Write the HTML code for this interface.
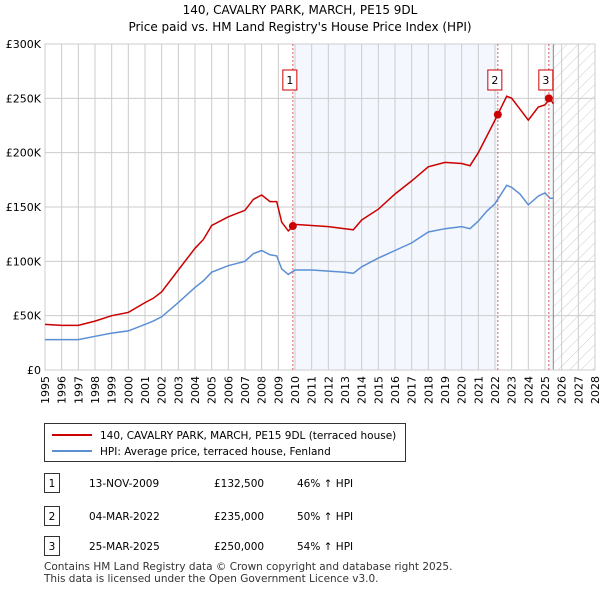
<!DOCTYPE html>
<html><head><meta charset="utf-8"><style>
body{margin:0;background:#fff;font-family:"Liberation Sans","DejaVu Sans",sans-serif;}
svg text{font-family:"DejaVu Sans","Liberation Sans",sans-serif;}
</style></head><body>
<svg id="c" width="600" height="590" xmlns="http://www.w3.org/2000/svg">
<defs><pattern id="hatch" width="8" height="8" patternUnits="userSpaceOnUse" patternTransform="rotate(45)"><line x1="0" y1="0" x2="0" y2="8" stroke="#ccc" stroke-width="1"/></pattern></defs>
<text x="300" y="14" text-anchor="middle" font-size="12">140, CAVALRY PARK, MARCH, PE15 9DL</text>
<text x="300" y="31" text-anchor="middle" font-size="12">Price paid vs. HM Land Registry's House Price Index (HPI)</text>
<g id="plot"></g>
<g>
<rect x="44.5" y="423.5" width="361" height="38" fill="#fff" stroke="#333"/>
<line x1="52" y1="435" x2="92" y2="435" stroke="#cc0000" stroke-width="2"/>
<text x="100" y="439" font-size="10.5">140, CAVALRY PARK, MARCH, PE15 9DL (terraced house)</text>
<line x1="52" y1="451" x2="92" y2="451" stroke="#5b8fd4" stroke-width="2"/>
<text x="100" y="455" font-size="10.5">HPI: Average price, terraced house, Fenland</text>
</g>
<g id="tbl" font-size="10.5"></g>
<text x="44" y="570" font-size="10.5" fill="#333">Contains HM Land Registry data © Crown copyright and database right 2025.</text>
<text x="44" y="582" font-size="10.5" fill="#333">This data is licensed under the Open Government Licence v3.0.</text>
</svg>
<script>
const years=[1995,1996,1997,1998,1999,2000,2001,2001.5,2002,2003,2004,2004.5,2005,2006,2007,2007.5,2008,2008.5,2008.9,2009.2,2009.6,2010,2011,2012,2013,2013.5,2014,2015,2016,2017,2018,2019,2020,2020.5,2021,2021.5,2022,2022.7,2023,2023.5,2024,2024.6,2025,2025.3,2025.5];
const hpiValues=[28,28,28,31,34,36,42,45,49,62,76,82,90,96,100,107,110,106,105,93,88,92,92,91,90,89,95,103,110,117,127,130,132,130,137,146,153,170,168,162,152,160,163,158,158];
const priceValues=[42,41,41,45,50,53,62,66,72,92,112,120,133,141,147,157,161,155,155,136,128,134,133,132,130,129,138,148,162,174,187,191,190,188,200,215,230,252,250,240,230,242,244,250,245];
const sales=[{t:2009.87,v:132.5,label:"1",date:"13-NOV-2009",price:"£132,500",pct:"46% ↑ HPI"},{t:2022.17,v:235,label:"2",date:"04-MAR-2022",price:"£235,000",pct:"50% ↑ HPI"},{t:2025.23,v:250,label:"3",date:"25-MAR-2025",price:"£250,000",pct:"54% ↑ HPI"}];
const yTicks=[0,50,100,150,200,250,300];
const yTickLabels=["£0","£50K","£100K","£150K","£200K","£250K","£300K"];
const L=45,R=595,T=44,B=370,x0=1995,x1=2028;
const X=t=>L+(t-x0)/(x1-x0)*(R-L), Y=v=>B-v/300*(B-T);
const NS="http://www.w3.org/2000/svg",g=document.getElementById('plot');
function mk(tag,a,p){const e=document.createElementNS(NS,tag);for(const k in a)e.setAttribute(k,a[k]);(p||g).appendChild(e);return e;}
let e;
e=mk('rect',{x:X(sales[0].t),y:T,width:X(sales[1].t)-X(sales[0].t),height:B-T,fill:'#f4f7fe'});


e=mk('rect',{x:X(sales[2].t),y:T,width:X(2025.5)-X(sales[2].t),height:B-T,fill:'#f4f7fe'});


e=mk('rect',{x:X(2025.5),y:T,width:R-X(2025.5),height:B-T,fill:'url(#hatch)'});


for(let y=1995;y<=2028;y++){
 e=mk('line',{x1:X(y),x2:X(y),y1:T,y2:B,stroke:'#ccc'});
 
 
 e=mk('text',{x:0,y:0,'font-size':11,'text-anchor':'end',transform:`translate(${X(y)+4},${B+6}) rotate(-90)`});e.textContent=y;
 
 
}
yTicks.forEach((v,i)=>{
 e=mk('line',{x1:L,x2:R,y1:Y(v),y2:Y(v),stroke:'#ccc'});
 
 
 e=mk('text',{x:L-4,y:Y(v)+4,'font-size':11,'text-anchor':'end'});e.textContent=yTickLabels[i];
 
 
});
e=mk('line',{x1:X(2025.5),x2:X(2025.5),y1:T,y2:B,stroke:'#888'});


e=mk('rect',{x:L,y:T,width:R-L,height:B-T,fill:'none',stroke:'#ccc'});


const pts=a=>years.map((t,i)=>X(t).toFixed(1)+','+Y(a[i]).toFixed(1)).join(' ');
e=mk('polyline',{points:pts(hpiValues),fill:'none',stroke:'#5b8fd4','stroke-width':1.5});


e=mk('polyline',{points:pts(priceValues),fill:'none',stroke:'#cc0000','stroke-width':1.5});


const tg=document.getElementById('tbl');
sales.forEach((s,i)=>{
 e=mk('line',{x1:X(s.t),x2:X(s.t),y1:T,y2:B,stroke:'#e06060','stroke-dasharray':'2,2'});
 
 
 e=mk('circle',{cx:X(s.t),cy:Y(s.v),r:4,fill:'#cc0000'});
 
 
 e=mk('rect',{x:X(s.t)-10,y:70,width:14,height:20,fill:'#fff',stroke:'#cc0000'});
 
 
 e=mk('text',{x:X(s.t)-3,y:84,'font-size':11,'text-anchor':'middle'});e.textContent=s.label;
 
 
 const ry=[484,517,547][i];
 e=mk('rect',{x:44.5,y:ry-10.5,width:15,height:19,fill:'#fff',stroke:'#333'},tg);
 
 
 e=mk('text',{x:52,y:ry+3,'text-anchor':'middle'},tg);e.textContent=s.label;
 
 
 [[89,s.date],[214,s.price],[297,s.pct]].forEach(([x,t])=>{
  e=mk('text',{x:x,y:ry+3},tg);e.textContent=t;
  
  
 });
});
</script>
</body></html>
